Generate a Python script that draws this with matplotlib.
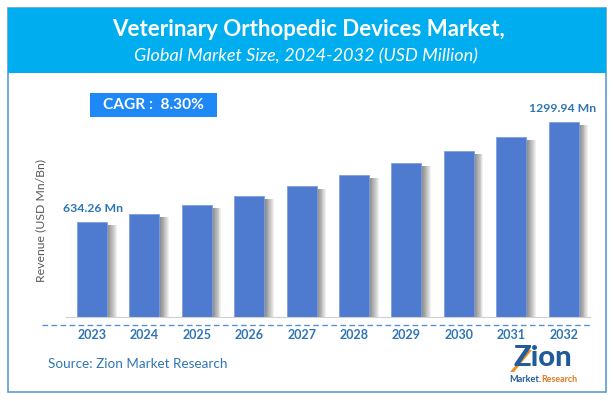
import matplotlib
matplotlib.use('Agg')
from matplotlib import pyplot as plt
from matplotlib.patches import Rectangle, Polygon

plt.rcParams['font.family'] = ['Lato', 'DejaVu Sans']

years = ['2023', '2024', '2025', '2026', '2027', '2028', '2029', '2030', '2031', '2032']
revenue = [634.26, 687, 747, 807, 873, 947, 1028, 1109, 1200, 1299.94]
first_label = '634.26 Mn'
last_label = '1299.94 Mn'

W, H = 613, 401
BLUE_TEXT = '#2E75B6'

fig = plt.figure(figsize=(W / 100, H / 100), dpi=100)

# background layer in pixel coords: frame, header, cagr box, dashed line
bg = fig.add_axes([0, 0, 1, 1])
bg.set_xlim(0, W)
bg.set_ylim(H, 0)
bg.axis('off')
bg.add_patch(Rectangle((7.5, 8), 598.5, 384, fc='white', ec='#5B9BD5', lw=1.2))
bg.add_patch(Rectangle((7.5, 8), 598.5, 65, fc='#00AEEF', ec='none'))
bg.text(308, 29, 'Veterinary Orthopedic Devices Market,', color='white', fontsize=16,
        fontweight='bold', ha='center', va='center')
bg.text(306, 56, 'Global Market Size, 2024-2032 (USD Million)', color='white', fontsize=13.1,
        style='italic', ha='center', va='center')
bg.add_patch(Rectangle((90, 93), 127, 24, fc='#1E88F7', ec='none'))
bg.text(153, 105, 'CAGR :  8.30%', color='white', fontsize=11.2, fontweight='bold',
        ha='center', va='center')
bg.plot([42, 592], [324.5, 324.5], color='#5B8FD0', lw=1, ls=(0, (4, 2.5)))
bg.text(48, 363.5, 'Source: Zion Market Research', color=BLUE_TEXT, fontsize=9.7, va='center')
bg.text(41, 221, 'Revenue (USD Mn/Bn)', color='#595959', fontsize=8.8, rotation=90,
        ha='center', va='center')

# logo
bg.text(543, 358, 'Zion', color='#1F5C99', fontsize=21, fontweight='black', ha='center', va='center')
bg.add_patch(Polygon([[510, 372], [514, 372], [532, 350], [529, 350]], fc='#F28C1E', ec='none'))
bg.text(541, 380, 'Market.', color='#1F5C99', fontsize=6.6, fontweight='bold', ha='right', va='center')
bg.text(541.5, 380, 'Research', color='#E07B1F', fontsize=6.4, fontweight='bold', ha='left', va='center')

# bar chart
ax = fig.add_axes([65.8 / W, 1 - 316.5 / H, 524 / W, 216.5 / H])
ax.patch.set_alpha(0)
x = list(range(len(years)))

# soft shadow to the right of each bar, layered so it fades outward
steps = 14
for s in range(steps):
    ax.bar([i + 0.28 for i in x], [v - 20 for v in revenue], width=0.19 * ((s + 1) / steps) ** 1.4, align='edge',
           color='#555555', alpha=0.085, lw=0)

ax.bar(x, revenue, width=0.57, color='#4E7ACF', edgecolor='#7FA0DE', lw=0.6)

ax.set_xlim(-0.5, 9.5)
ax.set_ylim(0, 1450)
ax.set_xticks(x)
ax.set_xticklabels(years, color=BLUE_TEXT, fontsize=9, fontweight='bold')
ax.tick_params(axis='x', length=0, pad=9)
ax.set_yticks([])
for side in ['top', 'left', 'right']:
    ax.spines[side].set_visible(False)
ax.spines['bottom'].set_color('#D0D0D0')

ax.annotate(first_label, (x[0], revenue[0]), xytext=(1, 5.5), textcoords='offset points',
            color=BLUE_TEXT, fontsize=8.8, fontweight='bold', ha='center', va='bottom')
ax.annotate(last_label, (x[-1], revenue[-1]), xytext=(-1, 6), textcoords='offset points',
            color=BLUE_TEXT, fontsize=8.8, fontweight='bold', ha='center', va='bottom')

plt.savefig('out.png', dpi=100)
